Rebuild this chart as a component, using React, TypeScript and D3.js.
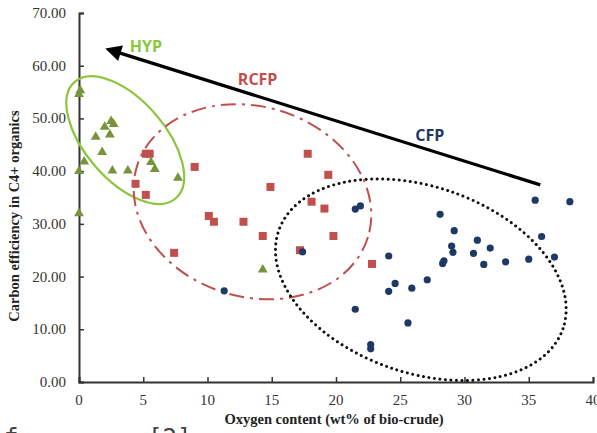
import React, { useEffect, useRef } from 'react';
import * as d3 from 'd3';

// values: [oxygen wt%, carbon efficiency %]
const hypPoints: [number, number][] = [
  [0.1, 55.3], [0.0, 54.6], [0.4, 41.8], [0.0, 40.0], [0.0, 32.0], [1.3, 46.5],
  [2.0, 48.4], [2.5, 49.5], [2.7, 48.9], [2.4, 46.9], [1.8, 43.6], [2.6, 40.1],
  [3.8, 40.1], [5.6, 41.7], [5.9, 40.4], [7.7, 38.7], [14.3, 21.3],
];
const rcfpPoints: [number, number][] = [
  [5.2, 43.3], [5.5, 43.3], [4.4, 37.6], [5.2, 35.5], [9.0, 40.8], [10.1, 31.5],
  [10.5, 30.4], [12.8, 30.4], [7.4, 24.5], [14.3, 27.7], [14.9, 37.0], [17.8, 43.3],
  [19.4, 39.3], [18.1, 34.2], [19.1, 32.9], [19.8, 27.7], [17.2, 25.0], [22.8, 22.4],
];
const cfpPoints: [number, number][] = [
  [11.3, 17.3], [17.4, 24.7], [21.5, 32.8], [21.9, 33.4], [28.1, 31.8], [35.5, 34.5],
  [38.2, 34.2], [29.2, 28.7], [31.0, 26.9], [29.0, 25.8], [29.1, 24.6], [30.7, 24.4],
  [32.0, 25.4], [31.5, 22.3], [33.2, 22.8], [35.0, 23.3], [36.0, 27.6], [37.0, 23.7],
  [28.4, 23.0], [28.3, 22.5], [24.1, 23.9], [27.1, 19.4], [24.6, 18.7], [24.1, 17.2],
  [25.9, 17.8], [21.5, 13.8], [25.6, 11.2], [22.7, 7.1], [22.7, 6.3],
];
const xTicks = [0, 5, 10, 15, 20, 25, 30, 35, 40];
const yTicks = [0, 10, 20, 30, 40, 50, 60, 70];

// group outlines: centre (data units), semi-axes (in x units), clockwise rotation
const groupShapes = [
  { name: 'HYP', cx: 3.6, cy: 45.9, a: 6.0, b: 3.1, rot: 49, color: '#8cc63e', dash: null, width: 2.2, cap: 'butt' },
  { name: 'RCFP', cx: 13.5, cy: 34.2, a: 9.4, b: 7.4, rot: 17, color: '#c0504d', dash: '15,6,3,6', width: 2, cap: 'butt' },
  { name: 'CFP', cx: 26.6, cy: 19.4, a: 11.7, b: 7.25, rot: 19, color: '#111', dash: '0,5.5', width: 3, cap: 'round' },
];
const groupLabels = [
  { text: 'HYP', x: 5.2, y: 62.6, color: '#8cc63e' },
  { text: 'RCFP', x: 13.9, y: 56.3, color: '#c0504d' },
  { text: 'CFP', x: 27.3, y: 45.8, color: '#1f3864' },
];
const arrowFrom: [number, number] = [35.9, 37.4];
const arrowTo: [number, number] = [2.4, 63.0];

const W = 597;
const H = 433;

const App = () => {
  const svgRef = useRef<SVGSVGElement>(null);

  useEffect(() => {
    const svg = d3.select(svgRef.current);
    svg.selectAll('*').remove();

    const x = d3.scaleLinear().domain([0, 40]).range([79, 593]);
    const y = d3.scaleLinear().domain([0, 70]).range([382, 13]);
    const kx = x(1) - x(0);

    svg.append('rect').attr('width', W).attr('height', H).attr('fill', '#fff');

    const defs = svg.append('defs');
    defs.append('marker')
      .attr('id', 'arrowhead')
      .attr('viewBox', '0 0 10 10')
      .attr('refX', 7).attr('refY', 5)
      .attr('markerWidth', 5.5).attr('markerHeight', 5)
      .attr('orient', 'auto')
      .append('path').attr('d', 'M0,0 L10,5 L0,10 z').attr('fill', '#000');

    // axes
    const axisColor = '#333';
    const yAxis = svg.append('g').attr('transform', `translate(${x(0)},0)`)
      .call(d3.axisRight(y).tickValues(yTicks).tickSize(5).tickFormat(() => ''));
    yAxis.select('.domain').attr('stroke', axisColor).attr('stroke-width', 2);
    yAxis.selectAll('line').attr('stroke', axisColor).attr('stroke-width', 1.5);

    const xAxis = svg.append('g').attr('transform', `translate(0,${y(0)})`)
      .call(d3.axisTop(x).tickValues(xTicks).tickSize(5).tickFormat(() => ''));
    xAxis.select('.domain').attr('stroke', axisColor).attr('stroke-width', 2);
    xAxis.selectAll('line').attr('stroke', axisColor).attr('stroke-width', 1.5);

    const tickFont = '"Liberation Serif", "Times New Roman", serif';
    svg.append('g').selectAll('text').data(yTicks).enter().append('text')
      .attr('x', 66).attr('y', (d) => y(d) + 5)
      .attr('text-anchor', 'end')
      .style('font-family', tickFont).style('font-size', '15px').attr('fill', '#333')
      .text((d) => d3.format('.2f')(d));
    svg.append('g').selectAll('text').data(xTicks).enter().append('text')
      .attr('x', (d) => x(d)).attr('y', 405)
      .attr('text-anchor', 'middle')
      .style('font-family', tickFont).style('font-size', '15px').attr('fill', '#333')
      .text((d) => d);

    svg.append('text')
      .attr('x', 334).attr('y', 424)
      .attr('text-anchor', 'middle')
      .style('font-family', tickFont).style('font-size', '14.5px').style('font-weight', 'bold')
      .attr('fill', '#222')
      .text('Oxygen content (wt% of bio-crude)');
    svg.append('text')
      .attr('transform', `translate(19,216) rotate(-90)`)
      .attr('text-anchor', 'middle')
      .style('font-family', tickFont).style('font-size', '14.5px').style('font-weight', 'bold')
      .attr('fill', '#222')
      .text('Carbon efficiency in C4+ organics');

    // group outlines
    groupShapes.forEach((g) => {
      svg.append('ellipse')
        .attr('transform', `translate(${x(g.cx)},${y(g.cy)}) rotate(${g.rot})`)
        .attr('rx', g.a * kx).attr('ry', g.b * kx)
        .attr('fill', 'none')
        .attr('stroke', g.color)
        .attr('stroke-width', g.width)
        .attr('stroke-linecap', g.cap)
        .attr('stroke-dasharray', g.dash);
    });

    // points
    svg.append('g').selectAll('rect').data(rcfpPoints).enter().append('rect')
      .attr('x', (d) => x(d[0]) - 4).attr('y', (d) => y(d[1]) - 4)
      .attr('width', 8).attr('height', 8)
      .attr('fill', '#c0504d');
    const tri = d3.symbol().type(d3.symbolTriangle).size(42);
    svg.append('g').selectAll('path').data(hypPoints).enter().append('path')
      .attr('d', tri)
      .attr('transform', (d) => `translate(${x(d[0])},${y(d[1])})`)
      .attr('fill', '#77933c');
    svg.append('g').selectAll('circle').data(cfpPoints).enter().append('circle')
      .attr('cx', (d) => x(d[0])).attr('cy', (d) => y(d[1]))
      .attr('r', 3.6)
      .attr('fill', '#1f3864');

    // trend arrow
    svg.append('line')
      .attr('x1', x(arrowFrom[0])).attr('y1', y(arrowFrom[1]))
      .attr('x2', x(arrowTo[0])).attr('y2', y(arrowTo[1]))
      .attr('stroke', '#000').attr('stroke-width', 3.2)
      .attr('marker-end', 'url(#arrowhead)');

    svg.append('g').selectAll('text').data(groupLabels).enter().append('text')
      .attr('x', (d) => x(d.x)).attr('y', (d) => y(d.y))
      .attr('text-anchor', 'middle')
      .style('font-family', '"Open Sans", "DejaVu Sans", sans-serif')
      .style('font-size', '16px').style('font-weight', 'bold')
      .attr('fill', (d) => d.color)
      .text((d) => d.text);

    // cut-off caption text at the bottom edge
    const caption = svg.append('g')
      .style('font-family', '"DejaVu Sans Mono", monospace').style('font-size', '24px')
      .attr('fill', '#444');
    caption.append('text').attr('x', 4).attr('y', 446).text('f');
    caption.append('text').attr('x', 148).attr('y', 446).text('[2]');
  }, []);

  return (
    <svg
      ref={svgRef}
      width={W}
      height={H}
      style={{ position: 'absolute', left: 0, top: 0 }}
    />
  );
};

export default App;
